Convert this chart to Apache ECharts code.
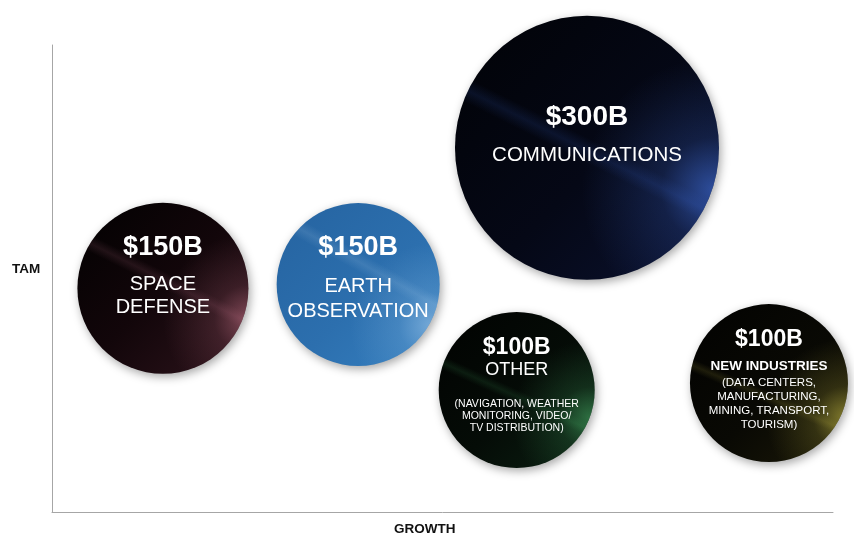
<!DOCTYPE html>
<html>
<head>
<meta charset="utf-8">
<script src="https://cdn.jsdelivr.net/npm/echarts@6/dist/echarts.min.js"></script>
<style>
html,body{margin:0;padding:0;background:#fff;}
#chart{width:854px;height:540px;}
</style>
</head>
<body>
<div id="chart"></div>
<script>
// ---- data ----
const segments = ['SPACE DEFENSE', 'EARTH OBSERVATION', 'COMMUNICATIONS', 'OTHER', 'NEW INDUSTRIES'];
const tamValues = ['$150B', '$150B', '$300B', '$100B', '$100B'];
const growth = [14.2, 39.2, 68.5, 59.5, 91.8];     // x position (relative growth)
const tam = [47.9, 48.7, 78.0, 26.1, 27.6];        // y position (relative TAM)
const bubble = [171, 163, 264, 156, 158];          // bubble diameter
const details = ['', '', '', '(NAVIGATION, WEATHER\nMONITORING, VIDEO/\nTV DISTRIBUTION)', '(DATA CENTERS,\nMANUFACTURING,\nMINING, TRANSPORT,\nTOURISM)'];

const FONT = 'Liberation Sans, Arial, sans-serif';
const G = echarts.graphic;

// per-bubble look
const looks = [
  { base: [[0,'#020101'],[0.5,'#12060a'],[1,'#2e141c']], band: 'rgba(200,120,145,', bandStart:[0.75,0.2], bandEnd:[0.45,0.8], glow:[1.0,0.68], glowColor:'rgba(190,110,130,' },
  { base: [[0,'#2563a0'],[0.55,'#2c6fae'],[1,'#3680c0']], band: 'rgba(200,225,245,', bandStart:[0.8,0.08], bandEnd:[0.42,0.76], glow:[0.95,0.75], glowColor:'rgba(160,200,235,' },
  { base: [[0,'#010206'],[0.55,'#050816'],[1,'#0b1230']], band: 'rgba(60,110,230,', bandStart:[0.78,0.3], bandEnd:[0.5,0.86], glow:[0.98,0.66], glowColor:'rgba(70,120,235,' },
  { base: [[0,'#010201'],[0.55,'#050c07'],[1,'#0b2012']], band: 'rgba(70,175,100,', bandStart:[0.7,0.3], bandEnd:[0.45,0.85], glow:[0.97,0.68], glowColor:'rgba(70,170,100,' },
  { base: [[0,'#020201'],[0.55,'#090904'],[1,'#1c1a08']], band: 'rgba(200,190,70,', bandStart:[0.72,0.38], bandEnd:[0.5,0.9], glow:[0.98,0.72], glowColor:'rgba(200,190,70,' }
];

const labelDefs = [
  { fmt: '{v|$150B}\n{n|SPACE}\n{n|DEFENSE}', rich: { v:{fontSize:27,fontWeight:'bold',lineHeight:52}, n:{fontSize:20,lineHeight:23} }, offset:[0,-18] },
  { fmt: '{v|$150B}\n{n|EARTH}\n{n|OBSERVATION}', rich: { v:{fontSize:27,fontWeight:'bold',lineHeight:53}, n:{fontSize:20,lineHeight:25} }, offset:[0,-12] },
  { fmt: '{v|$300B}\n{n|COMMUNICATIONS}', rich: { v:{fontSize:28,fontWeight:'bold',lineHeight:52}, n:{fontSize:20.5,lineHeight:24} }, offset:[0,-18] },
  { fmt: null, rich: { v:{fontSize:23,fontWeight:'bold',lineHeight:24}, n:{fontSize:18,lineHeight:20}, s:{fontSize:6,lineHeight:18}, p:{fontSize:10.5,lineHeight:12} }, offset:[0,-5] },
  { fmt: null, rich: { v:{fontSize:23,fontWeight:'bold',lineHeight:32}, n:{fontSize:13.5,fontWeight:'bold',lineHeight:20}, p:{fontSize:11.5,lineHeight:14} }, offset:[0,-5] }
];
labelDefs[3].fmt = '{v|' + tamValues[3] + '}\n{n|' + segments[3] + '}\n{s| }\n' + details[3].split('\n').map(l => '{p|' + l + '}').join('\n');
labelDefs[4].fmt = '{v|' + tamValues[4] + '}\n{n|' + segments[4] + '}\n' + details[4].split('\n').map(l => '{p|' + l + '}').join('\n');

function stops(arr){ return arr.map(s => ({offset:s[0], color:s[1]})); }

const baseData = segments.map((s, i) => ({
  name: s,
  value: [growth[i], tam[i]],
  symbolSize: bubble[i],
  itemStyle: {
    opacity: 1,
    color: new G.LinearGradient(0, 0, 1, 1, stops(looks[i].base)),
    shadowBlur: 10, shadowColor: 'rgba(0,0,0,0.35)', shadowOffsetX: 2, shadowOffsetY: 3
  }
}));

const bandData = segments.map((s, i) => {
  const L = looks[i];
  return {
    name: s,
    value: [growth[i], tam[i]],
    symbolSize: bubble[i],
    itemStyle: {
      opacity: 1,
      color: new G.LinearGradient(L.bandStart[0], L.bandStart[1], L.bandEnd[0], L.bandEnd[1], [
        {offset:0, color: L.band + '0)'},
        {offset:0.43, color: L.band + '0)'},
        {offset:0.5, color: L.band + '0.13)'},
        {offset:0.57, color: L.band + '0)'},
        {offset:1, color: L.band + '0)'}
      ])
    }
  };
});

const glowData = segments.map((s, i) => {
  const L = looks[i];
  const ld = labelDefs[i];
  return {
    name: s,
    value: [growth[i], tam[i]],
    symbolSize: bubble[i],
    itemStyle: {
      opacity: 1,
      color: new G.RadialGradient(L.glow[0], L.glow[1], 0.5, [
        {offset:0, color: L.glowColor + '0.6)'},
        {offset:0.4, color: L.glowColor + '0.18)'},
        {offset:1, color: L.glowColor + '0)'}
      ])
    },
    label: {
      show: true, position: 'inside', offset: ld.offset,
      formatter: ld.fmt, color: '#fff', fontFamily: FONT,
      rich: Object.fromEntries(Object.entries(ld.rich).map(([k, v]) => [k, Object.assign({color:'#fff', fontFamily: FONT, align:'center'}, v)]))
    }
  };
});

const chart = echarts.init(document.getElementById('chart'), null, {renderer: 'canvas'});
chart.setOption({
  animation: false,
  backgroundColor: '#ffffff',
  grid: { left: 52, right: 21, top: 45, bottom: 28 },
  xAxis: {
    type: 'value', min: 0, max: 100,
    axisLine: { show: true, lineStyle: { color: '#a6a6a6', width: 1 } },
    axisTick: { show: false }, axisLabel: { show: false }, splitLine: { show: false }
  },
  yAxis: {
    type: 'value', min: 0, max: 100,
    axisLine: { show: true, lineStyle: { color: '#a6a6a6', width: 1 } },
    axisTick: { show: false }, axisLabel: { show: false }, splitLine: { show: false }
  },
  graphic: [
    { type: 'text', left: 12, top: 262, style: { text: 'TAM', font: 'bold 13.5px ' + FONT, fill: '#111' } },
    { type: 'text', left: 394, top: 522, style: { text: 'GROWTH', font: 'bold 13.5px ' + FONT, fill: '#111' } }
  ],
  series: [
    { type: 'scatter', data: baseData, silent: true, z: 2, itemStyle: { opacity: 1 }, emphasis: { disabled: true } },
    { type: 'scatter', data: bandData, silent: true, z: 3, itemStyle: { opacity: 1 }, emphasis: { disabled: true } },
    { type: 'scatter', data: glowData, silent: true, z: 4, itemStyle: { opacity: 1 }, emphasis: { disabled: true } }
  ]
});
</script>
</body>
</html>
